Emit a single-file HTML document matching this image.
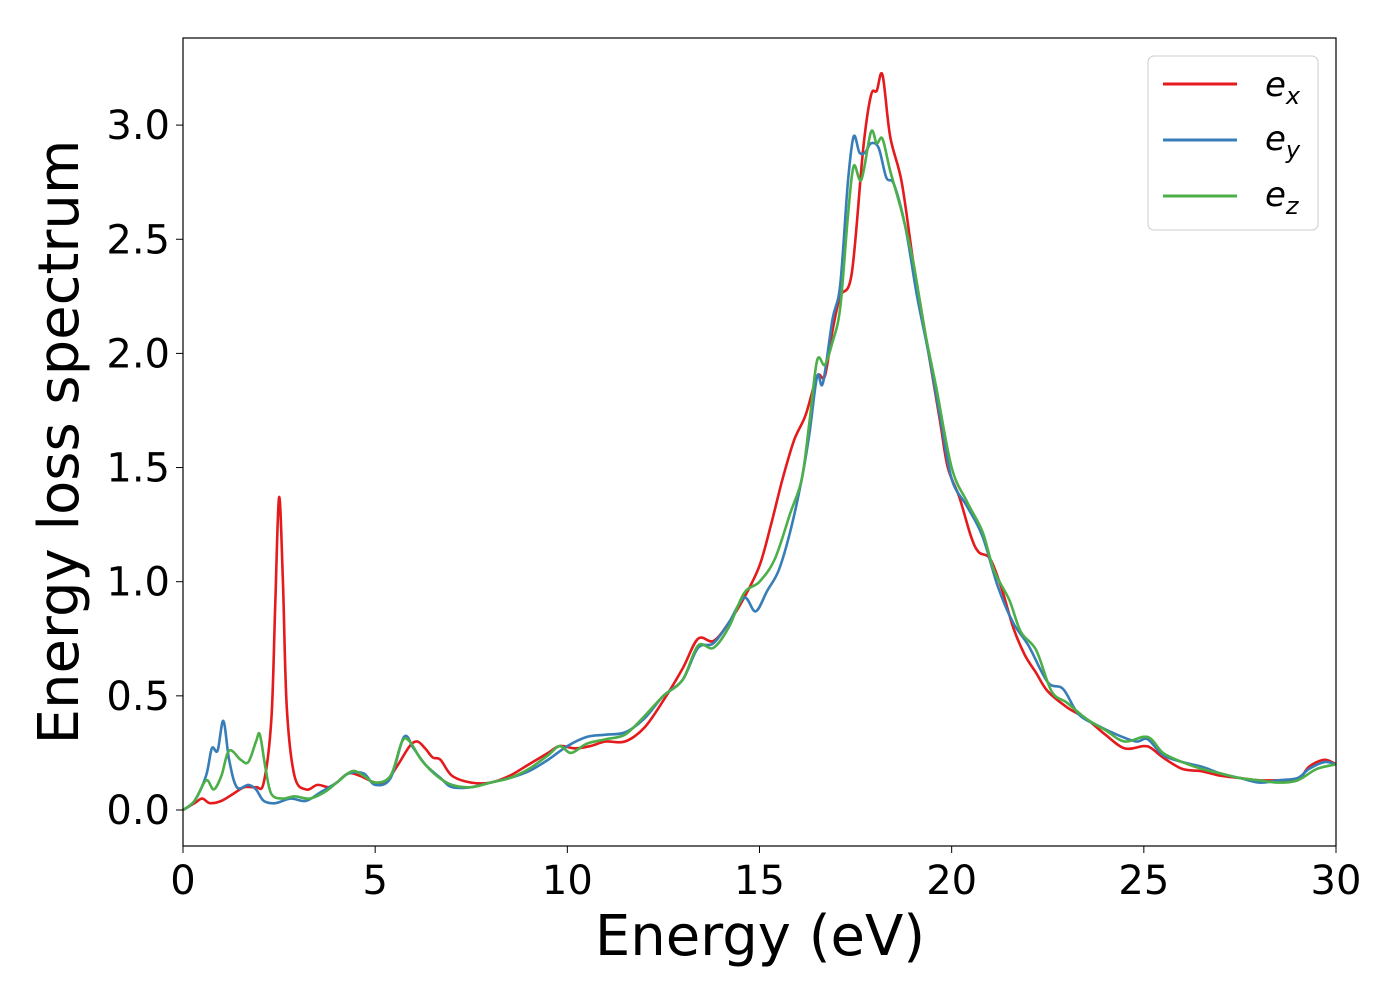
<!DOCTYPE html>
<html><head><meta charset="utf-8"><style>
body{margin:0;background:#fff;}
svg{display:block;font-family:"DejaVu Sans","Liberation Sans",sans-serif;}
</style></head><body>
<svg id="chart" width="1400" height="1000">
<rect x="0" y="0" width="1400" height="1000" fill="#fff"/>
<g id="series"></g>
<rect x="183" y="38" width="1153" height="808" fill="none" stroke="#000" stroke-width="1.2"/>
<g id="xticks"></g><g id="yticks"></g>
<text x="760" y="955" font-size="56" text-anchor="middle">Energy (eV)</text>
<text transform="translate(78,442) rotate(-90)" font-size="56" text-anchor="middle">Energy loss spectrum</text>
<g>
<rect x="1148" y="56" width="170" height="174" rx="6" fill="#fff" stroke="#ccc" stroke-width="1"/>
<g><line x1="1163" y1="84" x2="1237" y2="84" stroke="#e41a1c" stroke-width="3"/><text x="1265" y="96" font-size="34" font-style="italic">e<tspan font-size="24" dy="8">x</tspan></text></g>
<g><line x1="1163" y1="140" x2="1237" y2="140" stroke="#377eb8" stroke-width="3"/><text x="1265" y="150" font-size="34" font-style="italic">e<tspan font-size="24" dy="8">y</tspan></text></g>
<g><line x1="1163" y1="196" x2="1237" y2="196" stroke="#4daf4a" stroke-width="3"/><text x="1265" y="206" font-size="34" font-style="italic">e<tspan font-size="24" dy="8">z</tspan></text></g>
</g>
</svg>
<script>
const xTicks=[0,5,10,15,20,25,30];
const yTicks=[0.0,0.5,1.0,1.5,2.0,2.5,3.0];
const exX=[0,0.3,0.5,0.7,1.0,1.3,1.6,1.9,2.1,2.3,2.4,2.5,2.6,2.7,2.9,3.2,3.5,3.8,4.0,4.3,4.6,5.0,5.3,5.6,5.9,6.1,6.3,6.5,6.7,7.0,7.5,8.0,8.5,9.0,9.5,9.8,10.2,10.6,11,11.5,12,12.5,13,13.4,13.8,14.2,14.6,15,15.3,15.6,15.9,16.2,16.5,16.7,16.9,17.1,17.4,17.7,17.9,18.05,18.2,18.4,18.7,19.0,19.2,19.4,19.7,19.9,20.2,20.5,20.7,21,21.3,21.6,21.9,22.2,22.5,23,23.5,24,24.5,25,25.2,25.5,26,26.5,27,27.5,28,28.5,29,29.3,29.7,30];
const exY=[0,0.03,0.05,0.03,0.04,0.07,0.1,0.1,0.12,0.4,0.9,1.37,1.0,0.45,0.15,0.09,0.11,0.1,0.12,0.16,0.15,0.12,0.13,0.2,0.28,0.3,0.27,0.23,0.22,0.15,0.12,0.12,0.15,0.2,0.25,0.28,0.27,0.28,0.3,0.3,0.36,0.48,0.62,0.75,0.74,0.82,0.93,1.07,1.25,1.45,1.62,1.73,1.9,1.9,2.1,2.25,2.35,2.9,3.13,3.15,3.22,2.95,2.75,2.4,2.2,2.0,1.7,1.5,1.37,1.2,1.13,1.1,0.97,0.8,0.68,0.6,0.52,0.45,0.4,0.33,0.27,0.28,0.27,0.23,0.18,0.17,0.15,0.14,0.13,0.13,0.13,0.19,0.22,0.2];
const eyX=[0,0.3,0.6,0.75,0.9,1.05,1.2,1.4,1.7,1.9,2.1,2.4,2.8,3.2,3.6,4.0,4.3,4.7,5.0,5.4,5.75,6.0,6.3,6.7,7.0,7.5,8,8.5,9,9.5,10,10.5,11,11.5,12,12.5,13,13.4,13.8,14.2,14.6,14.9,15.2,15.5,15.8,16.1,16.3,16.5,16.65,16.9,17.1,17.3,17.45,17.6,17.75,17.9,18.1,18.3,18.5,18.8,19.1,19.4,19.7,20,20.4,20.8,21.2,21.6,22,22.5,22.9,23.3,23.8,24.3,24.8,25.1,25.5,26,26.5,27,27.5,28,28.5,29,29.3,29.7,30];
const eyY=[0,0.04,0.15,0.27,0.26,0.39,0.22,0.1,0.11,0.09,0.04,0.03,0.05,0.04,0.08,0.12,0.16,0.16,0.11,0.14,0.32,0.27,0.2,0.14,0.1,0.1,0.12,0.14,0.17,0.22,0.28,0.32,0.33,0.34,0.4,0.5,0.57,0.71,0.73,0.82,0.93,0.87,0.96,1.05,1.22,1.45,1.65,1.9,1.87,2.15,2.3,2.75,2.95,2.88,2.88,2.92,2.9,2.77,2.74,2.55,2.25,2.0,1.72,1.45,1.33,1.2,0.98,0.82,0.72,0.56,0.53,0.42,0.37,0.33,0.3,0.31,0.24,0.21,0.19,0.16,0.14,0.12,0.13,0.14,0.18,0.21,0.2];
const ezX=[0,0.3,0.6,0.8,1.0,1.2,1.5,1.7,1.9,2.0,2.15,2.3,2.6,2.9,3.3,3.7,4.0,4.4,4.7,5.0,5.4,5.7,5.9,6.2,6.6,7.0,7.5,8,8.5,9,9.5,9.8,10.1,10.5,11,11.5,12,12.5,13,13.4,13.8,14.2,14.6,15,15.4,15.8,16.1,16.3,16.5,16.7,16.9,17.1,17.3,17.45,17.65,17.9,18.05,18.2,18.4,18.7,19,19.3,19.6,20,20.4,20.8,21.1,21.5,21.8,22.2,22.6,23,23.5,24,24.5,25.1,25.5,26,26.5,27,27.5,28,28.5,29,29.5,30];
const ezY=[0,0.04,0.13,0.09,0.15,0.26,0.22,0.21,0.3,0.33,0.18,0.07,0.05,0.06,0.05,0.08,0.12,0.17,0.15,0.12,0.15,0.3,0.3,0.22,0.15,0.11,0.1,0.12,0.14,0.18,0.24,0.28,0.25,0.29,0.31,0.33,0.41,0.5,0.57,0.72,0.71,0.8,0.95,1.0,1.1,1.3,1.45,1.7,1.97,1.95,2.05,2.2,2.6,2.82,2.76,2.97,2.92,2.94,2.8,2.62,2.4,2.1,1.85,1.5,1.35,1.22,1.05,0.92,0.78,0.7,0.52,0.47,0.4,0.35,0.3,0.32,0.25,0.21,0.18,0.16,0.14,0.13,0.12,0.13,0.18,0.2];
const X0=183,X1=1336,Y0=810,YS=228.3;
function xs(v){return X0+(X1-X0)*v/30;}
function ys(v){return Y0-YS*v;}
const NS='http://www.w3.org/2000/svg';
function path(xa,ya){
  const p=xa.map((x,i)=>[xs(x),ys(ya[i])]);
  let d='M'+p[0][0]+','+p[0][1];
  for(let i=0;i<p.length-1;i++){
    const a=p[Math.max(0,i-1)],b=p[i],c=p[i+1],e=p[Math.min(p.length-1,i+2)];
    const c1=[b[0]+(c[0]-a[0])/6,b[1]+(c[1]-a[1])/6],c2=[c[0]-(e[0]-b[0])/6,c[1]-(e[1]-b[1])/6];
    d+=' C'+c1.join(',')+' '+c2.join(',')+' '+c.join(',');
  }
  return d;
}
const g=document.getElementById('series');
[[exX,exY,'#e41a1c','series-ex'],[eyX,eyY,'#377eb8','series-ey'],[ezX,ezY,'#4daf4a','series-ez']].forEach(s=>{
  const el=document.createElementNS(NS,'path');
  el.setAttribute('d',path(s[0],s[1]));
  el.setAttribute('fill','none');el.setAttribute('stroke',s[2]);el.setAttribute('stroke-width','2.6');
  
  
  g.appendChild(el);
});
const xt=document.getElementById('xticks');
xTicks.forEach(v=>{
  const l=document.createElementNS(NS,'line');
  l.setAttribute('x1',xs(v));l.setAttribute('x2',xs(v));l.setAttribute('y1',846);l.setAttribute('y2',853);l.setAttribute('stroke','#000');
  
  
  xt.appendChild(l);
  const t=document.createElementNS(NS,'text');
  t.setAttribute('x',xs(v));t.setAttribute('y',894);t.setAttribute('font-size','40');t.setAttribute('text-anchor','middle');
  t.textContent=v;
  
  
  xt.appendChild(t);
});
const yt=document.getElementById('yticks');
yTicks.forEach(v=>{
  const l=document.createElementNS(NS,'line');
  l.setAttribute('x1',176);l.setAttribute('x2',183);l.setAttribute('y1',ys(v));l.setAttribute('y2',ys(v));l.setAttribute('stroke','#000');
  
  
  yt.appendChild(l);
  const t=document.createElementNS(NS,'text');
  t.setAttribute('x',170);t.setAttribute('y',ys(v)+14);t.setAttribute('font-size','40');t.setAttribute('text-anchor','end');
  t.textContent=v.toFixed(1);
  
  
  yt.appendChild(t);
});
</script>
</body></html>
